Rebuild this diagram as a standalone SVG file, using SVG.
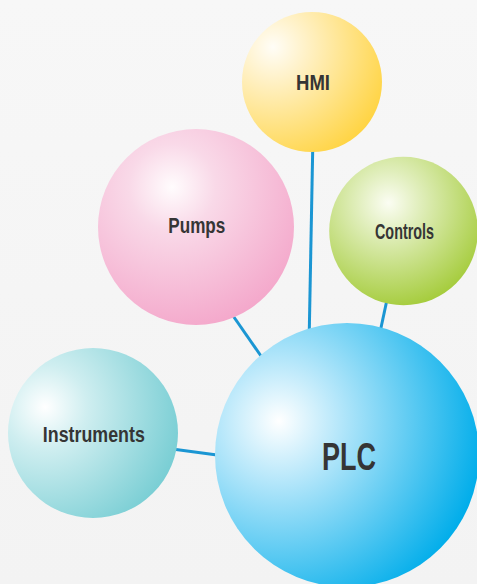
<svg xmlns="http://www.w3.org/2000/svg" width="477" height="584" viewBox="0 0 477 584">
  <style>
    .lbl { font-family: "Liberation Sans", Arial, sans-serif; font-weight: bold; fill: #353535; text-anchor: middle; }
    .conn { stroke: #1b96d3; stroke-width: 3; fill: none; }
  </style>
  <defs>
    <linearGradient id="bg" x1="0" y1="0" x2="0" y2="1">
      <stop offset="0" stop-color="#f7f7f7"/>
      <stop offset="1" stop-color="#f3f3f3"/>
    </linearGradient>
    <radialGradient id="gHMI" cx="0.221" cy="0.25" fx="0.221" fy="0.25" r="0.874">
      <stop offset="0" stop-color="#fffdf7"/>
      <stop offset="0.3" stop-color="#fff0c2"/>
      <stop offset="1" stop-color="#ffd443"/>
    </radialGradient>
    <radialGradient id="gPumps" cx="0.378" cy="0.296" fx="0.378" fy="0.296" r="0.738">
      <stop offset="0" stop-color="#fffcfd"/>
      <stop offset="0.3" stop-color="#f9d9e8"/>
      <stop offset="1" stop-color="#f4a8cb"/>
    </radialGradient>
    <radialGradient id="gControls" cx="0.399" cy="0.311" fx="0.399" fy="0.311" r="0.715">
      <stop offset="0" stop-color="#fbfdf3"/>
      <stop offset="0.3" stop-color="#e0eebb"/>
      <stop offset="1" stop-color="#a5cc3c"/>
    </radialGradient>
    <radialGradient id="gInstr" cx="0.218" cy="0.347" fx="0.218" fy="0.347" r="0.821">
      <stop offset="0" stop-color="#ffffff"/>
      <stop offset="0.3" stop-color="#cfeef0"/>
      <stop offset="1" stop-color="#79ced4"/>
    </radialGradient>
    <radialGradient id="gPLC" cx="0.242" cy="0.371" fx="0.242" fy="0.371" r="0.788">
      <stop offset="0" stop-color="#ffffff"/>
      <stop offset="0.3" stop-color="#b3e6fa"/>
      <stop offset="1" stop-color="#00adea"/>
    </radialGradient>
  </defs>

  <rect x="0" y="0" width="477" height="584" fill="url(#bg)"/>

  <g id="connectors">
    <line class="conn" x1="312.7" y1="150" x2="309.3" y2="330"/>
    <line class="conn" x1="386.5" y1="302" x2="380.5" y2="330"/>
    <line class="conn" x1="232.5" y1="315" x2="261" y2="356"/>
    <line class="conn" x1="176" y1="449.5" x2="217" y2="455"/>
  </g>

  <g id="hmi">
    <circle cx="312" cy="82" r="70" fill="url(#gHMI)"/>
    <text class="lbl" x="313" y="90" font-size="22" textLength="34" lengthAdjust="spacingAndGlyphs">HMI</text>
  </g>

  <g id="pumps">
    <circle cx="196" cy="227" r="98" fill="url(#gPumps)"/>
    <text class="lbl" x="196.8" y="233" font-size="22" textLength="57" lengthAdjust="spacingAndGlyphs">Pumps</text>
  </g>

  <g id="controls">
    <circle cx="403.5" cy="231" r="74.3" fill="url(#gControls)"/>
    <text class="lbl" x="404.5" y="238.5" font-size="22" textLength="59" lengthAdjust="spacingAndGlyphs">Controls</text>
  </g>

  <g id="instruments">
    <circle cx="93" cy="433" r="85" fill="url(#gInstr)"/>
    <text class="lbl" x="93.8" y="441.5" font-size="22" textLength="102" lengthAdjust="spacingAndGlyphs">Instruments</text>
  </g>

  <g id="plc">
    <circle cx="347" cy="455" r="132" fill="url(#gPLC)"/>
    <text class="lbl" x="349" y="469.5" font-size="38" textLength="54" lengthAdjust="spacingAndGlyphs">PLC</text>
  </g>
</svg>
